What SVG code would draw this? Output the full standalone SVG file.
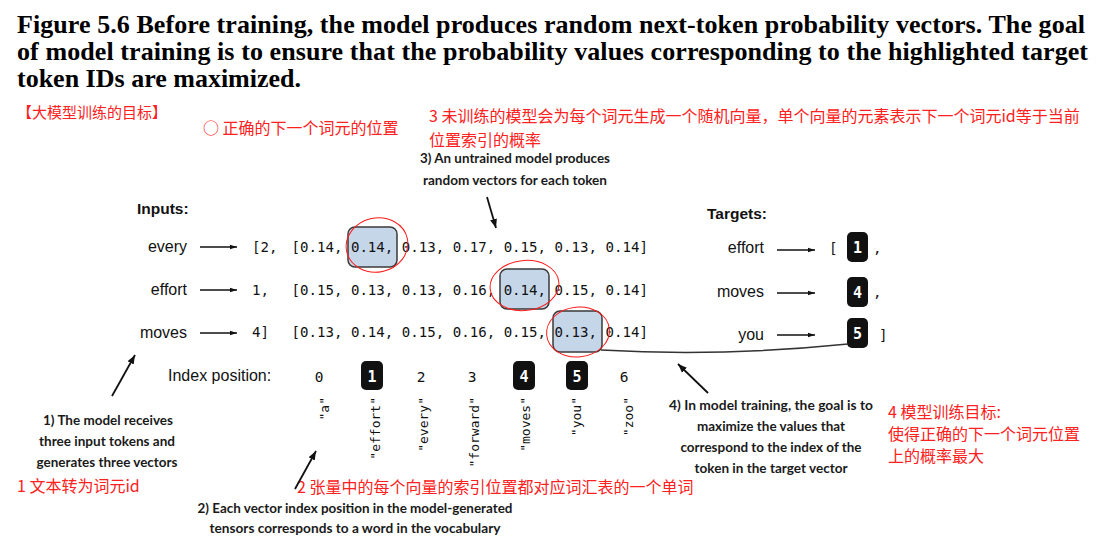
<svg xmlns="http://www.w3.org/2000/svg" width="1098" height="545" viewBox="0 0 1098 545">
<style>
.title{font-family:"Liberation Serif",serif;font-weight:bold;font-size:26px;fill:#000}
.red{font-family:"Noto Sans CJK SC",sans-serif;font-size:16px;fill:#ff2020}
.note{font-family:Lato,"DejaVu Sans Condensed",sans-serif;font-weight:bold;font-size:14px;fill:#1a1a1a;text-anchor:middle}
.lab{font-family:"Liberation Sans",Arial,sans-serif;font-size:16px;fill:#111}
.hdr{font-family:"Liberation Sans",Arial,sans-serif;font-size:15.5px;font-weight:bold;fill:#111}
.mono{font-family:"DejaVu Sans Mono",monospace;font-size:14.1px;fill:#111}
.num{font-family:"DejaVu Sans Mono",monospace;font-size:14.5px;fill:#111;text-anchor:middle}
.wnum{font-family:"DejaVu Sans Mono",monospace;font-size:15px;fill:#fff;text-anchor:middle;font-weight:bold}
.word{font-family:"DejaVu Sans Mono",monospace;font-size:13px;fill:#111;text-anchor:end}
.hl{fill:#c6d6e9;stroke:#3a3a3a;stroke-width:1.5}
.blk{fill:#111}
.ring{fill:none;stroke:#ff1a1a;stroke-width:1}
.arr{stroke:#111;stroke-width:1.3;fill:none;marker-end:url(#ah)}
.arr2{stroke:#111;stroke-width:1.8;fill:none;marker-end:url(#ah2)}
</style>
<defs>
<marker id="ah" markerWidth="8" markerHeight="6" refX="7" refY="3" orient="auto" markerUnits="userSpaceOnUse"><path d="M0,0.8 L7,3 L0,5.2 Z" fill="#111"/></marker>
<marker id="ah2" markerWidth="10" markerHeight="8" refX="9" refY="4" orient="auto" markerUnits="userSpaceOnUse"><path d="M0,0.5 L9,4 L0,7.5 Z" fill="#111"/></marker>
</defs>
<rect width="1098" height="545" fill="#fff"/>

<g id="title">
<text class="title" x="17" y="33" textLength="1068" lengthAdjust="spacing">Figure 5.6 Before training, the model produces random next-token probability vectors. The goal</text>
<text class="title" x="17" y="60" textLength="1071" lengthAdjust="spacing">of model training is to ensure that the probability values corresponding to the highlighted target</text>
<text class="title" x="17" y="87">token IDs are maximized.</text>
</g>

<g id="red-notes">
<text class="red" x="17" y="118" style="font-size:15px">【大模型训练的目标】</text>
<text class="red" x="203" y="134">○ 正确的下一个词元的位置</text>
<text class="red" x="429" y="122">3 未训练的模型会为每个词元生成一个随机向量，单个向量的元素表示下一个词元id等于当前</text>
<text class="red" x="429" y="146">位置索引的概率</text>
<text class="red" x="17" y="492">1 文本转为词元id</text>
<text class="red" x="297" y="493">2 张量中的每个向量的索引位置都对应词汇表的一个单词</text>
<text class="red" x="888" y="418">4 模型训练目标:</text>
<text class="red" x="888" y="440">使得正确的下一个词元位置</text>
<text class="red" x="888" y="462">上的概率最大</text>
</g>

<g id="note3">
<text class="note" x="515" y="163" textLength="190" lengthAdjust="spacingAndGlyphs">3) An untrained model produces</text>
<text class="note" x="515" y="185" textLength="184" lengthAdjust="spacingAndGlyphs">random vectors for each token</text>
</g>
<g id="note1">
<text class="note" x="108" y="425" textLength="130" lengthAdjust="spacingAndGlyphs">1) The model receives</text>
<text class="note" x="107" y="446" textLength="136" lengthAdjust="spacingAndGlyphs">three input tokens and</text>
<text class="note" x="107" y="467" textLength="141" lengthAdjust="spacingAndGlyphs">generates three vectors</text>
</g>
<g id="note2">
<text class="note" x="355" y="513" textLength="315" lengthAdjust="spacingAndGlyphs">2) Each vector index position in the model-generated</text>
<text class="note" x="355" y="533" textLength="291" lengthAdjust="spacingAndGlyphs">tensors corresponds to a word in the vocabulary</text>
</g>
<g id="note4">
<text class="note" x="771" y="410" textLength="204" lengthAdjust="spacingAndGlyphs">4) In model training, the goal is to</text>
<text class="note" x="771" y="431" textLength="148" lengthAdjust="spacingAndGlyphs">maximize the values that</text>
<text class="note" x="771" y="452" textLength="181" lengthAdjust="spacingAndGlyphs">correspond to the index of the</text>
<text class="note" x="771" y="473" textLength="153" lengthAdjust="spacingAndGlyphs">token in the target vector</text>
</g>

<g id="inputs">
<text class="hdr" x="137" y="214">Inputs:</text>
<text class="lab" x="187" y="252" text-anchor="end">every</text>
<text class="lab" x="187" y="295" text-anchor="end">effort</text>
<text class="lab" x="187" y="338" text-anchor="end">moves</text>
<text class="mono" x="252" y="252">[2,</text>
<text class="mono" x="252" y="295">1,</text>
<text class="mono" x="252" y="337">4]</text>
</g>

<g id="vectors">
<rect class="hl" x="348" y="227" width="49" height="40" rx="7"/>
<rect class="hl" x="500" y="269" width="49" height="40" rx="7"/>
<rect class="hl" x="553" y="311" width="49" height="41" rx="7"/>
<text class="mono" x="291.5" y="252">[0.14, 0.14, 0.13, 0.17, 0.15, 0.13, 0.14]</text>
<text class="mono" x="291.5" y="295">[0.15, 0.13, 0.13, 0.16, 0.14, 0.15, 0.14]</text>
<text class="mono" x="291.5" y="337">[0.13, 0.14, 0.15, 0.16, 0.15, 0.13, 0.14]</text>
<ellipse class="ring" cx="377" cy="245" rx="31" ry="27" transform="rotate(-12 377 245)"/>
<ellipse class="ring" cx="524.5" cy="285.5" rx="34.5" ry="25" transform="rotate(-6 524.5 285.5)"/>
<ellipse class="ring" cx="578" cy="332" rx="31.5" ry="25" transform="rotate(-6 578 332)"/>
</g>

<g id="targets">
<text class="hdr" x="707" y="219">Targets:</text>
<text class="lab" x="764" y="253" text-anchor="end">effort</text>
<text class="lab" x="764" y="297" text-anchor="end">moves</text>
<text class="lab" x="764" y="340" text-anchor="end">you</text>
<text class="mono" x="829" y="253">[</text>
<rect class="blk" x="847" y="232" width="21" height="30" rx="5"/>
<text class="wnum" x="857.5" y="252.5">1</text>
<text class="mono" x="873" y="253">,</text>
<rect class="blk" x="847" y="277" width="21" height="30" rx="5"/>
<text class="wnum" x="857.5" y="297.5">4</text>
<text class="mono" x="873" y="297">,</text>
<rect class="blk" x="847" y="318" width="21" height="30" rx="5"/>
<text class="wnum" x="857.5" y="338.5">5</text>
<text class="mono" x="879" y="340">]</text>
</g>

<g id="index">
<text class="lab" x="168" y="381">Index position:</text>
<text class="num" x="319" y="382">0</text>
<rect class="blk" x="361" y="361" width="22" height="29" rx="5"/>
<text class="wnum" x="372" y="382">1</text>
<text class="num" x="421" y="382">2</text>
<text class="num" x="472" y="382">3</text>
<rect class="blk" x="513" y="361" width="22" height="29" rx="5"/>
<text class="wnum" x="524" y="382">4</text>
<rect class="blk" x="566" y="361" width="22" height="29" rx="5"/>
<text class="wnum" x="577" y="382">5</text>
<text class="num" x="624" y="382">6</text>
<text class="word" transform="translate(329 397) rotate(-90)">"a"</text>
<text class="word" transform="translate(380 397) rotate(-90)">"effort"</text>
<text class="word" transform="translate(428 397) rotate(-90)">"every"</text>
<text class="word" transform="translate(479 397) rotate(-90)">"forward"</text>
<text class="word" transform="translate(530 397) rotate(-90)">"moves"</text>
<text class="word" transform="translate(581 397) rotate(-90)">"you"</text>
<text class="word" transform="translate(633 397) rotate(-90)">"zoo"</text>
</g>

<g id="connectors">
<line class="arr" x1="200" y1="247" x2="237" y2="247"/>
<line class="arr" x1="200" y1="290" x2="237" y2="290"/>
<line class="arr" x1="200" y1="333" x2="237" y2="333"/>
<line class="arr" x1="777" y1="250" x2="815" y2="250"/>
<line class="arr" x1="777" y1="293" x2="815" y2="293"/>
<line class="arr" x1="777" y1="335" x2="815" y2="335"/>
<path d="M601,350 Q720,357 848,344" fill="none" stroke="#333" stroke-width="1.4"/>
<line class="arr2" x1="487" y1="197" x2="496" y2="228"/>
<line class="arr2" x1="112" y1="396" x2="135" y2="355"/>
<line class="arr2" x1="295" y1="489" x2="316" y2="451"/>
<line class="arr2" x1="708" y1="393" x2="678" y2="364"/>
</g>
</svg>
